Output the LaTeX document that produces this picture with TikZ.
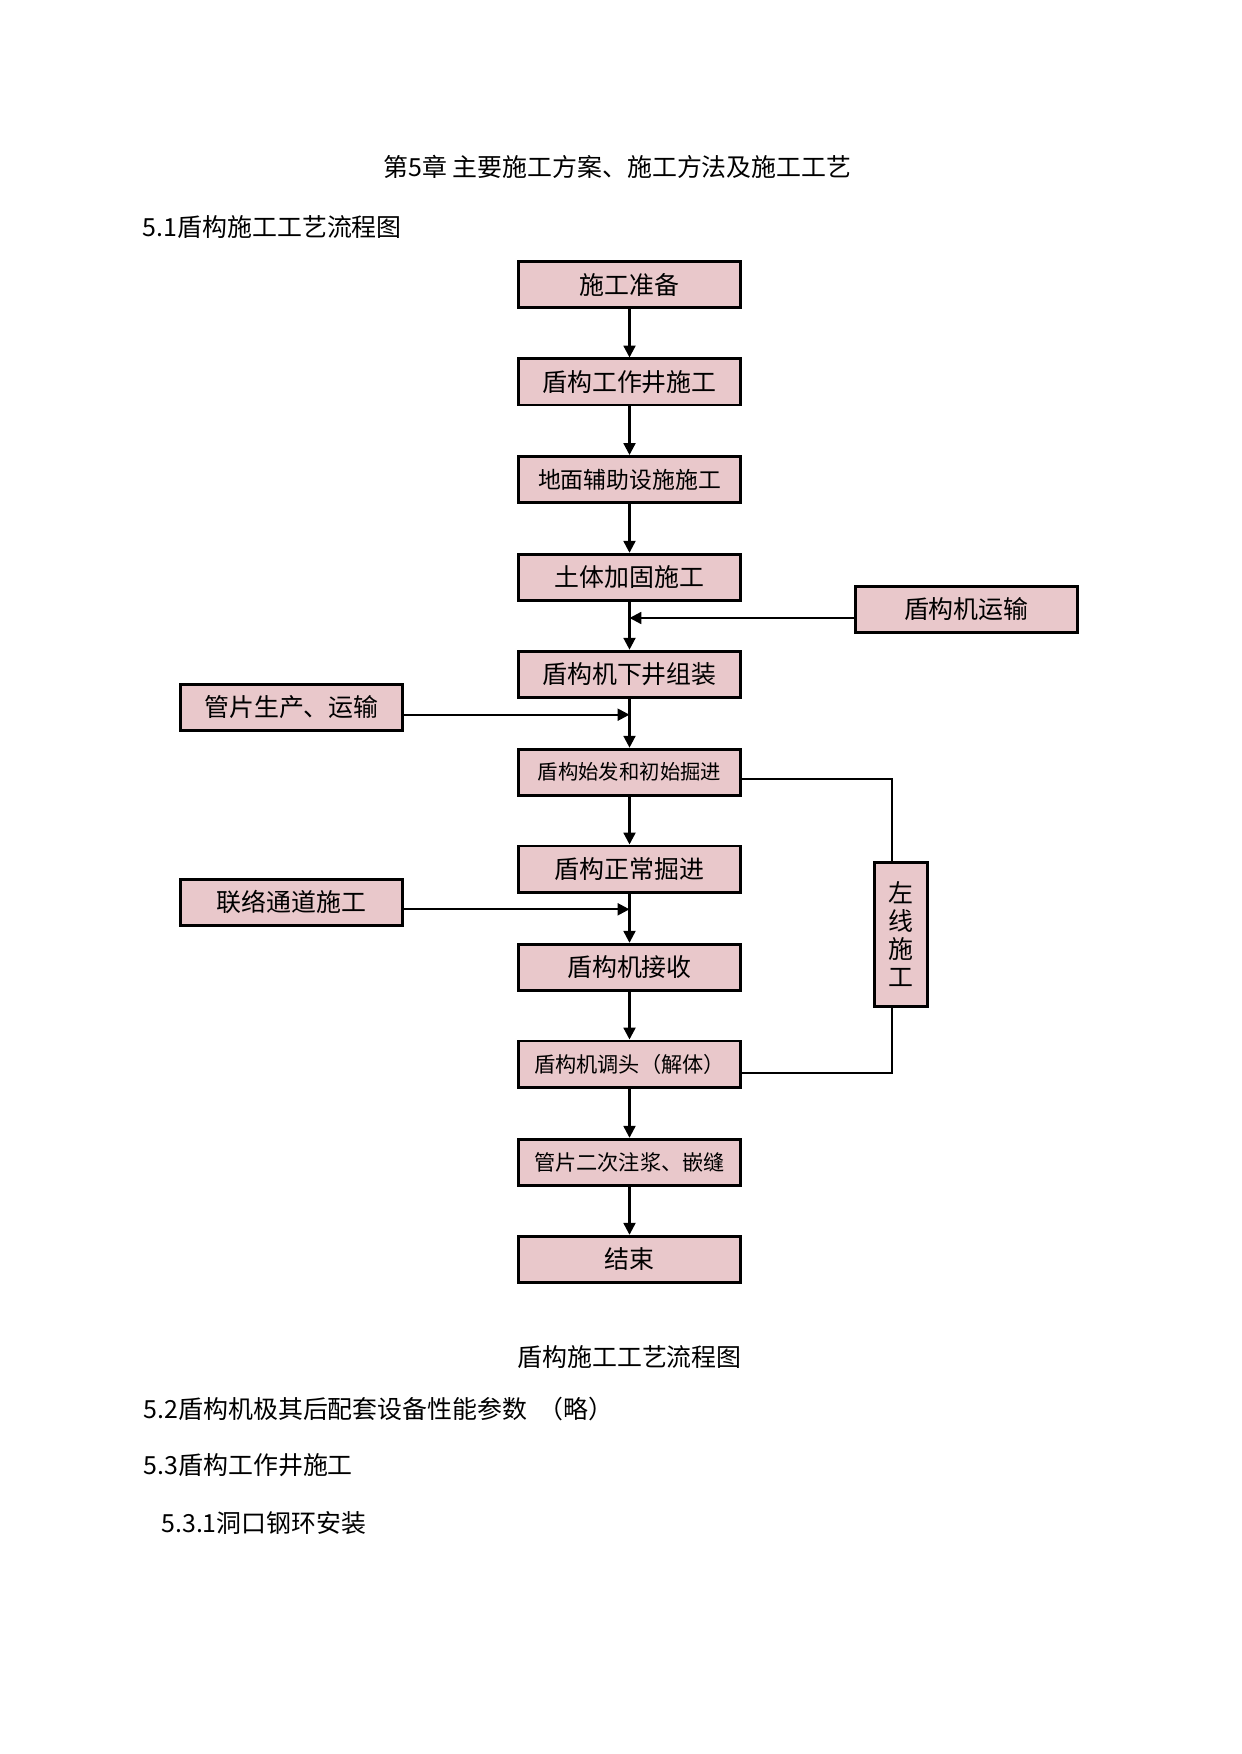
\documentclass[tikz,border=0pt]{standalone}
\usepackage{fontspec}
\setmainfont{Noto Sans CJK SC}
\usetikzlibrary{arrows.meta}
\definecolor{tissue}{RGB}{233,200,203}
\begin{document}
\begin{tikzpicture}[x=0.016922cm,y=-0.016922cm,
    stepbox/.style={rectangle, draw, line width=1.4pt, fill=tissue, minimum width=3.76cm, minimum height=0.78cm, inner sep=0pt, font=\fontsize{12}{14}\selectfont},
    barbox/.style={stepbox, minimum width=0.9cm, minimum height=2.45cm, align=center, font=\fontsize{12}{13.5}\selectfont},
    conn/.style={line width=1.1pt},
    arr/.style={conn, -{Triangle[length=2mm,width=2mm]}},
    txt/.style={inner sep=0pt, font=\fontsize{12}{14}\selectfont}]
\useasboundingbox (0,0) rectangle (1241,1754);

% page text
\node[txt] (title) at (617.5,166.7) {第5章 主要施工方案、施工方法及施工工艺};
\node[txt, anchor=west] (sec1) at (142.5,226.7) {5.1盾构施工工艺流程图};
\node[txt] (caption) at (629.6,1357.3) {盾构施工工艺流程图};
\node[txt, anchor=west] (sec2) at (143.4,1408.7) {5.2盾构机极其后配套设备性能参数~~（略）};
\node[txt, anchor=west] (sec3) at (143.4,1465.3) {5.3盾构工作井施工};
\node[txt, anchor=west] (sec31) at (161,1522.7) {5.3.1洞口钢环安装};

% main column
\node[stepbox] (prep)  at (629.5,284.5)  {施工准备};
\node[stepbox] (shaft) at (629.5,382)    {盾构工作井施工};
\node[stepbox, font=\fontsize{11}{13}\selectfont] (aux) at (629.5,479.5) {地面辅助设施施工};
\node[stepbox] (soil)  at (629.5,577.3)  {土体加固施工};
\node[stepbox] (down)  at (629.5,674.2)  {盾构机下井组装};
\node[stepbox, font=\fontsize{9.8}{12}\selectfont] (start) at (629.5,772.2) {盾构始发和初始掘进};
\node[stepbox] (drive) at (629.5,869)    {盾构正常掘进};
\node[stepbox] (recv)  at (629.5,967.3)  {盾构机接收};
\node[stepbox, font=\fontsize{10.2}{12}\selectfont] (turn) at (629.5,1064) {盾构机调头（解体）};
\node[stepbox, font=\fontsize{10.2}{12}\selectfont] (grout) at (629.5,1162.3) {管片二次注浆、嵌缝};
\node[stepbox] (finish) at (629.5,1259.3) {结束};

% side boxes
\node[stepbox] (tbm)   at (966.3,609.3) {盾构机运输};
\node[stepbox] (seg)   at (291.5,707.5) {管片生产、运输};
\node[stepbox] (cross) at (291.5,902.1) {联络通道施工};
\node[barbox]  (left)  at (901,934.5)   {左\\线\\施\\工};

\draw[arr] (prep) -- (shaft);
\draw[arr] (shaft) -- (aux);
\draw[arr] (aux) -- (soil);
\draw[arr] (soil) -- (down);
\draw[arr] (down) -- (start);
\draw[arr] (start) -- (drive);
\draw[arr] (drive) -- (recv);
\draw[arr] (recv) -- (turn);
\draw[arr] (turn) -- (grout);
\draw[arr] (grout) -- (finish);

\coordinate (j1) at (629.5,618);
\coordinate (j2) at (629.5,714.7);
\coordinate (j3) at (629.5,909.3);
\draw[arr] (tbm.west |- j1) -- (j1);
\draw[arr] (seg.east |- j2) -- (j2);
\draw[arr] (cross.east |- j3) -- (j3);

\coordinate (r1) at (891.8,779.3);
\coordinate (r2) at (891.8,1072.7);
\draw[conn] (start.east |- r1) -- (r1) -- (r1 |- left.north);
\draw[conn] (r2 |- left.south) -- (r2) -- (turn.east |- r2);
\end{tikzpicture}
\end{document}
